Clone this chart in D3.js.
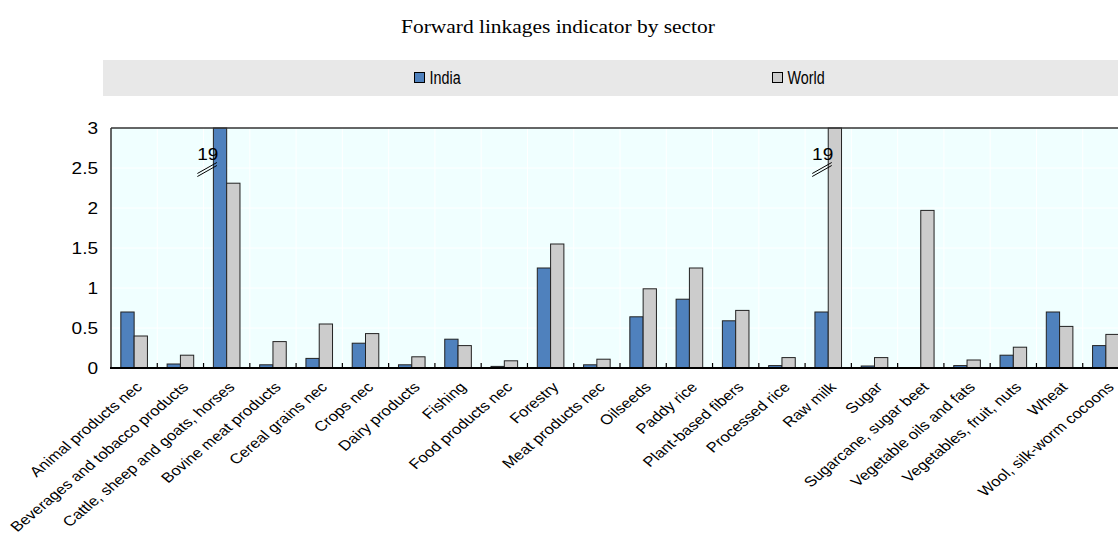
<!DOCTYPE html>
<html>
<head>
<meta charset="utf-8">
<script src="https://cdn.jsdelivr.net/npm/d3@7"></script>
<style>
  body { margin: 0; background: #fff; }
  text { font-family: "Liberation Sans", Arial, sans-serif; fill: #000; }
</style>
</head>
<body>
<div id="chart"></div>
<script>
// Data
var sectors = ["Animal products nec", "Beverages and tobacco products", "Cattle, sheep and goats, horses",
  "Bovine meat products", "Cereal grains nec", "Crops nec", "Dairy products", "Fishing",
  "Food products nec", "Forestry", "Meat products nec", "Oilseeds", "Paddy rice",
  "Plant-based fibers", "Processed rice", "Raw milk", "Sugar", "Sugarcane, sugar beet",
  "Vegetable oils and fats", "Vegetables, fruit, nuts", "Wheat", "Wool, silk-worm cocoons"];
var series = ["India", "World"];
var india = [0.70, 0.05, 19, 0.04, 0.12, 0.31, 0.04, 0.36, 0.02, 1.25, 0.04, 0.64, 0.86,
  0.59, 0.03, 0.70, 0.025, 0, 0.03, 0.16, 0.70, 0.28];
var world = [0.40, 0.16, 2.31, 0.33, 0.55, 0.43, 0.14, 0.28, 0.09, 1.55, 0.11, 0.99, 1.25,
  0.72, 0.13, 19, 0.13, 1.97, 0.10, 0.26, 0.52, 0.42];
var yTicks = [0, 0.5, 1, 1.5, 2, 2.5, 3];
var colors = {"India": "#4f81bd", "World": "#cccccc"};

var W = 1118, H = 534;
var stretch = 1.19; // text in the picture is drawn a bit wide

var svg = d3.select("#chart").append("svg")
    .attr("width", W)
    .attr("height", H);

//Scales
var x0 = d3.scaleBand().domain(sectors).range([111, 1129]).paddingInner(0).paddingOuter(0);
var x1 = d3.scaleBand().domain(series).range([0, x0.bandwidth()]).paddingInner(0).paddingOuter(0.74);
var yScale = d3.scaleLinear().domain([0, 3]).range([368, 128]);
var yMax = 3;

//Title
svg.append("text")
    .attr("transform", "translate(558,33) scale(" + stretch + ",1)")
    .attr("text-anchor", "middle")
    .style("font-family", "'Liberation Serif', 'Times New Roman', serif")
    .style("font-size", "18px")
    .text("Forward linkages indicator by sector");

//Legend
svg.append("rect")
    .attr("x", 103).attr("y", 60)
    .attr("width", W - 103).attr("height", 36)
    .attr("fill", "#e8e8e8");
var legendX = {"India": 414.5, "World": 772.5};
series.forEach(function(s) {
    svg.append("rect")
        .attr("x", legendX[s]).attr("y", 72.5)
        .attr("width", 10).attr("height", 10)
        .attr("fill", colors[s])
        .attr("stroke", "#000").attr("stroke-width", 1);
    svg.append("text")
        .attr("transform", "translate(" + (legendX[s] + 15) + ",84) scale(0.82,1)")
        .style("font-size", "17.5px")
        .text(s);
});

//Plot background
svg.append("rect")
    .attr("x", 111).attr("y", 128)
    .attr("width", 1129 - 111).attr("height", 240)
    .attr("fill", "#f0ffff");

//Grid
svg.append("g").selectAll("line.hgrid")
    .data(yTicks.slice(1, -1))
    .enter().append("line")
    .attr("x1", 111).attr("x2", 1129)
    .attr("y1", function(d) { return yScale(d); })
    .attr("y2", function(d) { return yScale(d); })
    .attr("stroke", "#fff").attr("stroke-width", 1);
svg.append("g").selectAll("line.vgrid")
    .data(sectors.slice(1))
    .enter().append("line")
    .attr("x1", function(d) { return x0(d); })
    .attr("x2", function(d) { return x0(d); })
    .attr("y1", 128).attr("y2", 368)
    .attr("stroke", "#fff").attr("stroke-width", 1);

//Bars
var rows = sectors.map(function(s, i) { return {sector: s, India: india[i], World: world[i]}; });
var groups = svg.append("g").selectAll("g.sector")
    .data(rows)
    .enter().append("g")
    .attr("transform", function(d) { return "translate(" + x0(d.sector) + ",0)"; });

groups.selectAll("rect")
    .data(function(d) { return series.map(function(s) { return {key: s, value: d[s]}; }); })
    .enter().append("rect")
    .filter(function(d) { return d.value > 0; })
    .attr("x", function(d) { return x1(d.key); })
    .attr("y", function(d) { return yScale(Math.min(d.value, yMax)); })
    .attr("width", x1.bandwidth())
    .attr("height", function(d) { return yScale(0) - yScale(Math.min(d.value, yMax)); })
    .attr("fill", function(d) { return colors[d.key]; })
    .attr("stroke", "#222").attr("stroke-width", 1);

//Break labels for values beyond the axis
var breaks = [];
rows.forEach(function(r) {
    series.forEach(function(s) {
        if (r[s] > yMax) breaks.push({x: x0(r.sector) + x1(s), value: r[s]});
    });
});
breaks.forEach(function(b) {
    svg.append("text")
        .attr("transform", "translate(" + (b.x + 5) + ",160) scale(" + stretch + ",1)")
        .attr("text-anchor", "end")
        .style("font-size", "16px")
        .text(b.value);
    [0, 3].forEach(function(off) {
        svg.append("line")
            .attr("x1", b.x - 16).attr("y1", 173.5 + off)
            .attr("x2", b.x + 3.5).attr("y2", 162.5 + off)
            .attr("stroke", "#000").attr("stroke-width", 1);
    });
});

//Frame
svg.append("line").attr("x1", 111).attr("x2", 1129).attr("y1", 128).attr("y2", 128)
    .attr("stroke", "#333").attr("stroke-width", 1.5);
svg.append("line").attr("x1", 111).attr("x2", 111).attr("y1", 128).attr("y2", 368)
    .attr("stroke", "#333").attr("stroke-width", 1.5);

//X axis
svg.append("g").selectAll("line.tick")
    .data(sectors.slice(1))
    .enter().append("line")
    .attr("x1", function(d) { return x0(d); })
    .attr("x2", function(d) { return x0(d); })
    .attr("y1", 363).attr("y2", 368)
    .attr("stroke", "#000").attr("stroke-width", 1.2);
svg.append("line").attr("x1", 110).attr("x2", 1129).attr("y1", 368).attr("y2", 368)
    .attr("stroke", "#000").attr("stroke-width", 2);

svg.append("g").selectAll("text")
    .data(sectors)
    .enter().append("text")
    .attr("transform", function(d) {
        return "translate(" + (x0(d) + x0.bandwidth() / 2 + 9) + ",388) scale(" + stretch + ",1) rotate(-45)";
    })
    .attr("text-anchor", "end")
    .style("font-size", "14px")
    .text(function(d) { return d; });

//Y axis labels
svg.append("g").selectAll("text")
    .data(yTicks)
    .enter().append("text")
    .attr("transform", function(d) { return "translate(98," + yScale(d) + ") scale(" + stretch + ",1)"; })
    .attr("text-anchor", "end")
    .attr("dy", "0.36em")
    .style("font-size", "16px")
    .text(function(d) { return d; });
</script>
</body>
</html>
